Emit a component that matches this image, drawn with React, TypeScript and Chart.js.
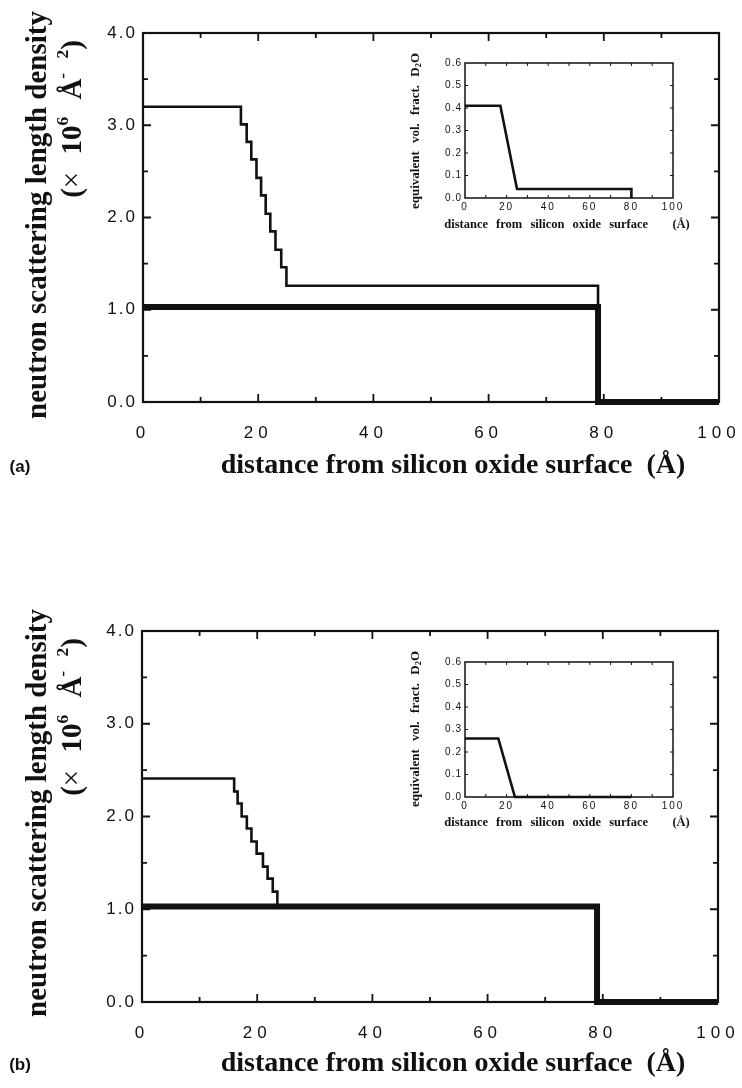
import React, { useEffect, useRef } from "react";
import { Chart, registerables } from "chart.js";

Chart.register(...registerables);

const INK = "#111111";
const SANS = "'Liberation Sans', Arial, Helvetica, sans-serif";
const SERIF = "'Liberation Serif', 'Times New Roman', Times, serif";

// Tick positions (data units)
const MAIN_X_MAJOR = [0, 20, 40, 60, 80, 100];
const MAIN_X_MINOR = [10, 30, 50, 70, 90];
const MAIN_Y_MAJOR = [0, 1, 2, 3, 4];
const MAIN_Y_MINOR = [0.5, 1.5, 2.5, 3.5];
const INSET_X_TICKS = [10, 20, 30, 40, 50, 60, 70, 80, 90];
const INSET_Y_TICKS = [0.1, 0.2, 0.3, 0.4, 0.5];

// Panel (a): stepped layer profile — at each distance the SLD switches to the listed level
const A_LAYER_X = [0, 17.0, 18.0, 18.8, 19.7, 20.5, 21.3, 22.1, 23.0, 24.0, 24.9, 79.0];
const A_LAYER_SLD = [3.2, 3.01, 2.82, 2.63, 2.43, 2.24, 2.04, 1.85, 1.65, 1.46, 1.26, 0.0];
// Panel (a): reference slab
const A_BASE_X = [0, 79, 100];
const A_BASE_SLD = [1.03, 0.0, 0.0];
// Panel (a) inset: equivalent D2O volume fraction
const A_INSET_X = [0, 17, 25, 80, 80];
const A_INSET_FRAC = [0.41, 0.41, 0.04, 0.04, 0.0];

// Panel (b)
const B_LAYER_X = [0, 16.0, 16.6, 17.3, 18.2, 19.0, 19.9, 21.0, 21.8, 22.7, 23.5];
const B_LAYER_SLD = [2.41, 2.27, 2.14, 2.0, 1.87, 1.73, 1.6, 1.46, 1.33, 1.19, 1.05];
const B_BASE_X = [0, 79, 100];
const B_BASE_SLD = [1.03, 0.0, 0.0];
const B_INSET_X = [0, 16, 24, 80];
const B_INSET_FRAC = [0.26, 0.26, 0.0, 0.0];

type Pt = { x: number; y: number };

// Vertical drop at every listed distance, flat in between; the last level
// is held to `end` when one is given.
function stepPoints(xs: number[], ys: number[], end?: number): Pt[] {
  const pts: Pt[] = [{ x: xs[0], y: ys[0] }];
  for (let i = 1; i < xs.length; i++) {
    pts.push({ x: xs[i], y: ys[i - 1] });
    pts.push({ x: xs[i], y: ys[i] });
  }
  if (end !== undefined) pts.push({ x: end, y: ys[ys.length - 1] });
  return pts;
}

function linePoints(xs: number[], ys: number[]): Pt[] {
  return xs.map((x, i) => ({ x, y: ys[i] }));
}

type Box = { left: number; top: number; width: number; height: number };
type Area = { left: number; top: number; right: number; bottom: number };

type PlotSpec = {
  canvas: Box;
  area: Area;
  xMax: number;
  xStep: number;
  yMax: number;
  yStep: number;
  xFont: number;
  yFont: number;
  xSpacing: number;
  ySpacing: number;
  xPad: number;
  yPad: number;
  xMajor: number[];
  xMinor: number[];
  yMajor: number[];
  yMinor: number[];
  majorLen: number;
  minorLen: number;
  frameWidth: number;
  tickWidth: number;
  series: { points: Pt[]; width: number }[];
};

function framePlugin(spec: PlotSpec) {
  return {
    id: "frameTicks",
    beforeDraw(chart: any) {
      chart.ctx.letterSpacing = spec.ySpacing + "px";
    },
    beforeDatasetsDraw(chart: any) {
      const { ctx, chartArea: a, scales } = chart;
      const sx = scales.x;
      const sy = scales.y;
      ctx.save();
      ctx.strokeStyle = INK;
      ctx.lineWidth = spec.tickWidth;
      ctx.beginPath();
      const xt = (vals: number[], len: number) =>
        vals.forEach((v) => {
          const p = sx.getPixelForValue(v);
          ctx.moveTo(p, a.bottom);
          ctx.lineTo(p, a.bottom - len);
          ctx.moveTo(p, a.top);
          ctx.lineTo(p, a.top + len);
        });
      const yt = (vals: number[], len: number) =>
        vals.forEach((v) => {
          const p = sy.getPixelForValue(v);
          ctx.moveTo(a.left, p);
          ctx.lineTo(a.left + len, p);
          ctx.moveTo(a.right, p);
          ctx.lineTo(a.right - len, p);
        });
      xt(spec.xMajor, spec.majorLen);
      xt(spec.xMinor, spec.minorLen);
      yt(spec.yMajor, spec.majorLen);
      yt(spec.yMinor, spec.minorLen);
      ctx.stroke();
      ctx.lineWidth = spec.frameWidth;
      ctx.strokeRect(a.left, a.top, a.right - a.left, a.bottom - a.top);
      ctx.restore();
      ctx.letterSpacing = spec.xSpacing + "px";
    },
    afterDraw(chart: any) {
      chart.ctx.letterSpacing = "0px";
    },
  };
}

function buildConfig(spec: PlotSpec): any {
  const c = spec.canvas;
  const a = spec.area;
  return {
    type: "line",
    data: {
      datasets: spec.series.map((s) => ({
        data: s.points,
        borderColor: INK,
        borderWidth: s.width,
        pointRadius: 0,
        fill: false,
        tension: 0,
        clip: false,
        borderCapStyle: "butt",
        borderJoinStyle: "miter",
      })),
    },
    options: {
      animation: false,
      responsive: false,
      maintainAspectRatio: false,
      devicePixelRatio: 1,
      events: [],
      layout: {
        padding: {
          left: 0,
          bottom: 0,
          top: a.top - c.top,
          right: c.left + c.width - a.right,
        },
      },
      plugins: { legend: { display: false }, tooltip: { enabled: false } },
      scales: {
        x: {
          type: "linear",
          min: 0,
          max: spec.xMax,
          grid: { display: false, drawTicks: false },
          border: { display: false },
          ticks: {
            z: 1,
            stepSize: spec.xStep,
            padding: spec.xPad,
            color: INK,
            maxRotation: 0,
            autoSkip: false,
            font: { family: SANS, size: spec.xFont },
            callback: (v: number) => String(v),
          },
          afterFit: (s: any) => {
            s.height = c.top + c.height - a.bottom;
            s.paddingLeft = 0;
            s.paddingRight = 0;
          },
        },
        y: {
          type: "linear",
          min: 0,
          max: spec.yMax,
          grid: { display: false, drawTicks: false },
          border: { display: false },
          ticks: {
            stepSize: spec.yStep,
            padding: spec.yPad,
            color: INK,
            autoSkip: false,
            font: { family: SANS, size: spec.yFont },
            callback: (v: number) => Number(v).toFixed(1),
          },
          afterFit: (s: any) => {
            s.width = a.left - c.left;
            s.paddingTop = 0;
            s.paddingBottom = 0;
          },
        },
      },
    },
    plugins: [framePlugin(spec)],
  };
}

const MAIN_BASE = {
  xMax: 100,
  xStep: 20,
  yMax: 4,
  yStep: 1,
  xFont: 17,
  yFont: 17,
  xSpacing: 5,
  ySpacing: 2,
  xPad: 21,
  yPad: 6,
  xMajor: MAIN_X_MAJOR,
  xMinor: MAIN_X_MINOR,
  yMajor: MAIN_Y_MAJOR,
  yMinor: MAIN_Y_MINOR,
  majorLen: 8,
  minorLen: 5,
  frameWidth: 2.2,
  tickWidth: 1.8,
};

const INSET_BASE = {
  xMax: 100,
  xStep: 20,
  yMax: 0.6,
  yStep: 0.1,
  xFont: 10,
  yFont: 10,
  xSpacing: 2,
  ySpacing: 1,
  xPad: 3,
  yPad: 3,
  xMajor: INSET_X_TICKS,
  xMinor: [],
  yMajor: INSET_Y_TICKS,
  yMinor: [],
  majorLen: 3,
  minorLen: 0,
  frameWidth: 1.5,
  tickWidth: 1,
};

const MAIN_A: PlotSpec = {
  ...MAIN_BASE,
  canvas: { left: 0, top: 0, width: 742, height: 500 },
  area: { left: 143, top: 33, right: 719, bottom: 402 },
  series: [
    { points: stepPoints(A_LAYER_X, A_LAYER_SLD), width: 2.6 },
    { points: stepPoints(A_BASE_X, A_BASE_SLD, 100), width: 6 },
  ],
};

const MAIN_B: PlotSpec = {
  ...MAIN_BASE,
  canvas: { left: 0, top: 560, width: 742, height: 500 },
  area: { left: 142, top: 631, right: 718, bottom: 1002 },
  series: [
    { points: stepPoints(B_LAYER_X, B_LAYER_SLD), width: 2.6 },
    { points: stepPoints(B_BASE_X, B_BASE_SLD, 100), width: 6 },
  ],
};

const INSET_A: PlotSpec = {
  ...INSET_BASE,
  canvas: { left: 425, top: 50, width: 275, height: 170 },
  area: { left: 465, top: 63, right: 673, bottom: 198 },
  series: [{ points: linePoints(A_INSET_X, A_INSET_FRAC), width: 2.6 }],
};

const INSET_B: PlotSpec = {
  ...INSET_BASE,
  canvas: { left: 425, top: 649, width: 275, height: 170 },
  area: { left: 465, top: 662, right: 673, bottom: 797 },
  series: [{ points: linePoints(B_INSET_X, B_INSET_FRAC), width: 2.6 }],
};

function PlotCanvas({ spec }: { spec: PlotSpec }) {
  const ref = useRef<HTMLCanvasElement>(null);
  useEffect(() => {
    if (!ref.current) return;
    const chart = new Chart(ref.current, buildConfig(spec));
    return () => chart.destroy();
  }, [spec]);
  const c = spec.canvas;
  return (
    <canvas
      ref={ref}
      width={c.width}
      height={c.height}
      style={{ position: "absolute", left: c.left, top: c.top, width: c.width, height: c.height }}
    />
  );
}

function Label({
  cx,
  cy,
  rotate = false,
  size,
  family = SERIF,
  weight = 700,
  wordSpacing = 0,
  children,
}: {
  cx: number;
  cy: number;
  rotate?: boolean;
  size: number;
  family?: string;
  weight?: number;
  wordSpacing?: number;
  children: React.ReactNode;
}) {
  return (
    <div
      style={{
        position: "absolute",
        left: cx,
        top: cy,
        transform: `translate(-50%, -50%)${rotate ? " rotate(-90deg)" : ""}`,
        whiteSpace: "pre",
        fontFamily: family,
        fontWeight: weight,
        fontSize: size,
        lineHeight: 1,
        wordSpacing,
        color: INK,
      }}
    >
      {children}
    </div>
  );
}

const sup: React.CSSProperties = { fontSize: "0.6em", verticalAlign: "0.75em" };
const sub: React.CSSProperties = { fontSize: "0.65em", verticalAlign: "-0.25em" };

function PanelText({ dy, tag }: { dy: number; tag: string }) {
  return (
    <>
      <Label cx={36} cy={215 + dy} rotate size={29}>
        neutron scattering length density
      </Label>
      <Label cx={70} cy={119 + dy} rotate size={29} wordSpacing={10}>
        (<span style={{ fontWeight: 400 }}>×</span> 10<span style={sup}>6</span> Å<span style={sup}>- 2</span>)
      </Label>
      <Label cx={453} cy={464 + dy} size={28}>
        distance from silicon oxide surface  (Å)
      </Label>
      <Label cx={20} cy={466 + dy} size={17} family={SANS}>
        {tag}
      </Label>
      <Label cx={415} cy={131 + dy} rotate size={13} wordSpacing={5}>
        equivalent vol. fract. D<span style={sub}>2</span>O
      </Label>
      <Label cx={567} cy={224 + dy} size={12.5} wordSpacing={5}>
        distance from silicon oxide surface   (Å)
      </Label>
    </>
  );
}

export default function App() {
  return (
    <div
      style={{
        position: "absolute",
        left: 0,
        top: 0,
        width: 742,
        height: 1088,
        background: "#ffffff",
        overflow: "hidden",
      }}
    >
      <PlotCanvas spec={MAIN_A} />
      <PlotCanvas spec={INSET_A} />
      <PlotCanvas spec={MAIN_B} />
      <PlotCanvas spec={INSET_B} />
      <PanelText dy={0} tag="(a)" />
      <PanelText dy={598} tag="(b)" />
    </div>
  );
}
